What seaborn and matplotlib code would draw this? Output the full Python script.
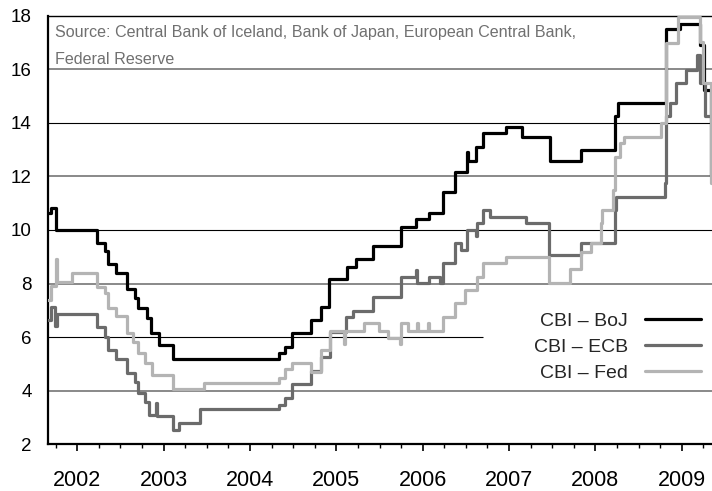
import matplotlib
matplotlib.use("Agg")
import matplotlib.pyplot as plt
from matplotlib.lines import Line2D
from matplotlib.ticker import MultipleLocator
import pandas as pd
import seaborn as sns

# ---------------- data ----------------
boj_t = [2001.664, 2001.695, 2001.752, 2002.225, 2002.321, 2002.359, 2002.448, 2002.572,
         2002.668, 2002.703, 2002.803, 2002.853, 2002.946, 2003.104, 2004.338, 2004.404,
         2004.488, 2004.706, 2004.818, 2004.917, 2005.125, 2005.226, 2005.419, 2005.743,
         2005.917, 2006.071, 2006.236, 2006.372, 2006.507, 2006.525, 2006.615, 2006.699,
         2006.970, 2007.144, 2007.471, 2007.830, 2008.223, 2008.262, 2008.822, 2008.976,
         2009.207, 2009.253, 2009.334, 2009.35]
boj_v = [10.65, 10.82, 10.00, 9.53, 9.22, 8.73, 8.41, 7.81,
         7.45, 7.08, 6.71, 6.17, 5.71, 5.17, 5.40, 5.65,
         6.15, 6.64, 7.14, 8.17, 8.63, 8.91, 9.40, 10.13,
         10.42, 10.65, 11.40, 12.16, 12.91, 12.58, 13.09, 13.62,
         13.86, 13.49, 12.56, 12.99, 14.26, 14.74, 17.50, 17.70,
         16.90, 15.24, 12.00, 12.00]

ecb_t = [2001.664, 2001.695, 2001.740, 2001.765, 2002.225, 2002.321, 2002.359, 2002.448,
         2002.572, 2002.668, 2002.699, 2002.784, 2002.830, 2002.911, 2002.925, 2003.104,
         2003.181, 2003.420, 2004.338, 2004.404, 2004.491, 2004.711, 2004.821, 2004.930,
         2005.110, 2005.190, 2005.426, 2005.743, 2005.917, 2005.930, 2006.071, 2006.198,
         2006.236, 2006.372, 2006.440, 2006.507, 2006.615, 2006.630, 2006.699, 2006.780,
         2007.201, 2007.463, 2007.830, 2008.223, 2008.243, 2008.802, 2008.822, 2008.860,
         2008.938, 2009.053, 2009.172, 2009.207, 2009.265, 2009.35]
ecb_v = [6.64, 7.14, 6.40, 6.87, 6.39, 6.02, 5.52, 5.17,
         4.67, 4.34, 3.93, 3.59, 3.10, 3.55, 3.06, 2.53,
         2.81, 3.31, 3.47, 3.72, 4.25, 4.75, 5.25, 6.21,
         6.77, 6.98, 7.51, 8.26, 8.51, 8.01, 8.26, 8.01,
         8.76, 9.51, 9.26, 10.00, 9.76, 10.25, 10.75, 10.50,
         10.25, 9.07, 9.51, 10.75, 11.25, 11.75, 14.24, 14.74,
         15.49, 15.98, 16.54, 15.49, 14.24, 14.24]

fed_t = [2001.664, 2001.700, 2001.753, 2001.760, 2001.935, 2002.225, 2002.321, 2002.359,
         2002.448, 2002.572, 2002.645, 2002.706, 2002.784, 2002.861, 2003.104, 2003.470,
         2004.338, 2004.404, 2004.491, 2004.711, 2004.821, 2004.930, 2005.085, 2005.100,
         2005.320, 2005.495, 2005.600, 2005.735, 2005.746, 2005.830, 2005.930, 2005.942,
         2006.060, 2006.072, 2006.236, 2006.372, 2006.495, 2006.627, 2006.699, 2006.970,
         2007.463, 2007.703, 2007.830, 2007.954, 2008.061, 2008.081, 2008.204, 2008.223,
         2008.281, 2008.331, 2008.764, 2008.822, 2008.956, 2009.207, 2009.245, 2009.334,
         2009.35]
fed_v = [7.39, 7.90, 8.91, 8.07, 8.39, 7.89, 7.64, 7.08,
         6.79, 6.17, 5.83, 5.40, 5.05, 4.59, 4.07, 4.30,
         4.47, 4.80, 5.02, 4.71, 5.52, 6.23, 5.75, 6.23,
         6.52, 6.23, 5.96, 5.75, 6.52, 6.23, 6.52, 6.23,
         6.52, 6.23, 6.77, 7.27, 7.76, 8.26, 8.76, 9.01,
         8.04, 8.54, 9.19, 9.51, 10.25, 10.75, 11.50, 12.74,
         13.24, 13.49, 13.99, 16.98, 17.97, 17.00, 15.49, 11.75,
         11.75]

labels = ["CBI \u2013 BoJ", "CBI \u2013 ECB", "CBI \u2013 Fed"]
colors = ["#000000", "#6b6b6b", "#b4b4b4"]
year_ticks = [2002, 2003, 2004, 2005, 2006, 2007, 2008, 2009]
y_ticks = [2, 4, 6, 8, 10, 12, 14, 16, 18]
source = ["Source: Central Bank of Iceland, Bank of Japan, European Central Bank,",
          "Federal Reserve"]

# ---------------- table ----------------
frames = []
for lab, t, v in zip(labels, [boj_t, ecb_t, fed_t], [boj_v, ecb_v, fed_v]):
    frames.append(pd.DataFrame({"t": t, "v": v, "series": lab}))
df = pd.concat(frames, ignore_index=True)

# ---------------- style ----------------
sns.set_theme(style="white")
plt.rcParams["font.family"] = ["Liberation Sans", "DejaVu Sans"]
plt.rcParams["axes.edgecolor"] = "black"

fig = plt.figure(figsize=(7.12, 4.91), dpi=100)
ax = fig.add_axes([48.3 / 712, 1 - 444.3 / 491, 1 - 48.3 / 712, (444.3 - 15.7) / 491])

# horizontal guide lines
for y, c, lw in [(16, "#808080", 1.3), (14, "black", 0.8), (12, "#808080", 1.3),
                 (10, "black", 0.8), (8, "#808080", 1.3), (4, "#808080", 1.3)]:
    ax.axhline(y, color=c, lw=lw, zorder=1)
ax.hlines(6, 2001.5, 2006.70, color="black", lw=0.8, zorder=1)

sns.lineplot(data=df, x="t", y="v", hue="series", palette=dict(zip(labels, colors)),
             hue_order=labels, estimator=None, sort=False, drawstyle="steps-post",
             lw=2.3, legend=False, ax=ax, zorder=3)

ax.set_xlim(2001.664, 2009.35)
ax.set_ylim(2, 18)
ax.set_xticks(year_ticks)
ax.set_xticklabels([str(y) for y in year_ticks])
ax.xaxis.set_minor_locator(MultipleLocator(0.25))
ax.set_yticks(y_ticks)
ax.set_yticklabels([str(y) for y in y_ticks])
ax.set_xlabel("")
ax.set_ylabel("")

ax.tick_params(axis="x", which="major", bottom=True, length=5, width=1.2,
               direction="out", labelsize=15.5, pad=13.5, colors="black")
ax.tick_params(axis="x", which="minor", bottom=True, length=3, width=1.0,
               direction="out", colors="black")
ax.tick_params(axis="y", left=False, length=0, labelsize=13.5, pad=12, colors="black")

ax.spines["right"].set_visible(False)
ax.spines["left"].set_linewidth(1.6)
ax.spines["bottom"].set_linewidth(1.6)
ax.spines["top"].set_linewidth(1.0)

# source note
fig.text(55 / 712, 1 - 33 / 491, source[0], fontsize=11.6, color="#707070", va="center", ha="left")
fig.text(55 / 712, 1 - 60 / 491, source[1], fontsize=11.6, color="#707070", va="center", ha="left")

# legend
handles = [Line2D([], [], color=c, lw=2.3) for c in colors]
ax.legend(handles, labels, loc="center right", bbox_to_anchor=(701 / 712, 1 - 347 / 491),
          bbox_transform=fig.transFigure, frameon=False, markerfirst=False,
          fontsize=14, handlelength=2.9, handletextpad=0.85, labelspacing=0.42,
          borderpad=0, borderaxespad=0)

fig.savefig("out.png", dpi=100)
